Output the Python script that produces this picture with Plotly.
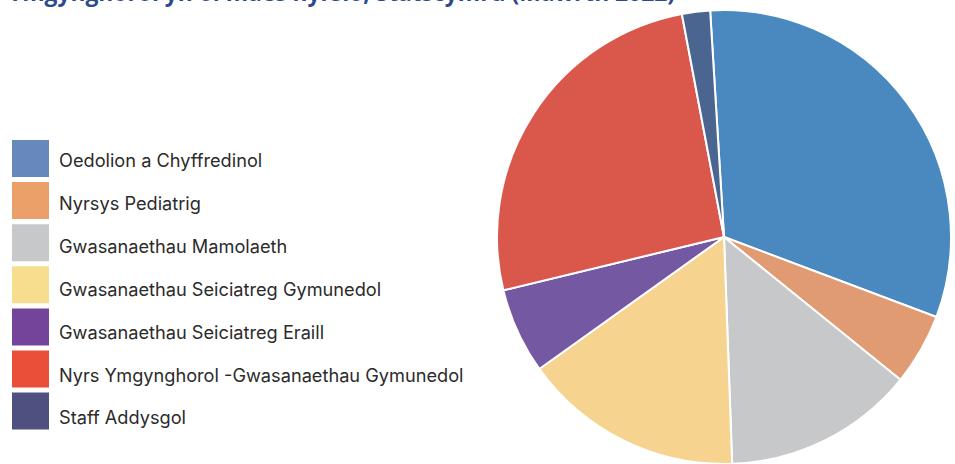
import plotly.graph_objects as go

categories = [
    "Oedolion a Chyffredinol",
    "Nyrsys Pediatrig",
    "Gwasanaethau Mamolaeth",
    "Gwasanaethau Seiciatreg Gymunedol",
    "Gwasanaethau Seiciatreg Eraill",
    "Nyrs Ymgynghorol -Gwasanaethau Gymunedol",
    "Staff Addysgol",
]
values = [31.7, 5.1, 13.6, 15.7, 6.1, 25.8, 2.0]
slice_colors = ["#4A89BF", "#E09B72", "#C7C8CA", "#F6D38F", "#7459A2", "#D9574B", "#4A6690"]
legend_colors = ["#6788BA", "#EBA06A", "#C7C8CA", "#F7DE8E", "#74449A", "#EA4F3A", "#505080"]
title_text = "Ymgynghorol yn ôl maes nyrsio, Statscymru (Mawrth 2022)"

W, H = 955, 464

fig = go.Figure()
fig.add_trace(go.Pie(
    labels=categories,
    values=values,
    sort=False,
    direction="clockwise",
    rotation=-3.5,
    marker=dict(colors=slice_colors, line=dict(color="white", width=2)),
    textinfo="none",
    hoverinfo="label+percent",
    showlegend=False,
    domain=dict(x=[497 / W, 951 / W], y=[0, 454 / H]),
))

shapes = []
annotations = []
top0, step, size = 140, 42.1, 37
text0, text_step = 160, 42.9
for i, (cat, col) in enumerate(zip(categories, legend_colors)):
    y0 = top0 + i * step
    shapes.append(dict(
        type="rect", xref="paper", yref="paper",
        x0=12 / W, x1=49 / W, y0=1 - (y0 + size) / H, y1=1 - y0 / H,
        fillcolor=col, line=dict(width=0),
    ))
    annotations.append(dict(
        text=cat, xref="paper", yref="paper",
        x=57 / W, y=1 - (text0 + i * text_step) / H,
        xanchor="left", yanchor="middle", showarrow=False,
        font=dict(family="Inter", size=18.2, color="#2B2B2B"),
    ))

annotations.append(dict(
    text="<b>" + title_text + "</b>", xref="paper", yref="paper",
    x=6 / W, y=1 - 10.5 / H, xanchor="left", yanchor="bottom", showarrow=False,
    font=dict(family="Open Sans", size=22.8, color="#2B4A8E"),
))

fig.update_layout(
    width=W, height=H,
    margin=dict(l=0, r=0, t=0, b=0),
    paper_bgcolor="white",
    plot_bgcolor="white",
    shapes=shapes,
    annotations=annotations,
)

fig.write_html(
    "out.html",
    config={"displayModeBar": False},
    post_script="document.body.style.margin='0';",
)
